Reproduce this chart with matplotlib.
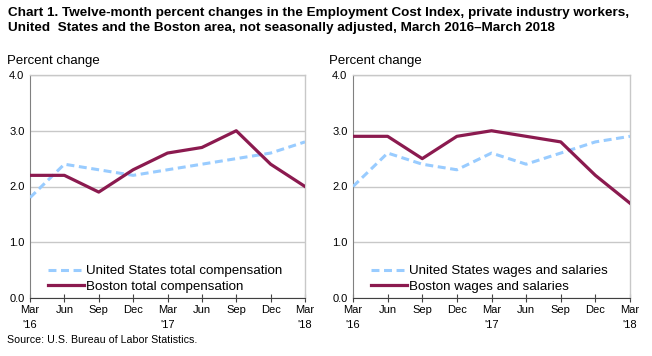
import matplotlib
matplotlib.use("Agg")
import matplotlib.pyplot as plt
from matplotlib import font_manager

months = ["Mar\n'16", "Jun", "Sep", "Dec", "Mar\n'17", "Jun", "Sep", "Dec", "Mar\n'18"]
us_total = [1.8, 2.4, 2.3, 2.2, 2.3, 2.4, 2.5, 2.6, 2.8]
boston_total = [2.2, 2.2, 1.9, 2.3, 2.6, 2.7, 3.0, 2.4, 2.0]
us_wages = [2.0, 2.6, 2.4, 2.3, 2.6, 2.4, 2.6, 2.8, 2.9]
boston_wages = [2.9, 2.9, 2.5, 2.9, 3.0, 2.9, 2.8, 2.2, 1.7]
yticks = [0.0, 1.0, 2.0, 3.0, 4.0]

names = {f.name for f in font_manager.fontManager.ttflist}
narrow = "Liberation Sans Narrow" if "Liberation Sans Narrow" in names else "Liberation Sans"
regular = "Liberation Sans"

US_COLOR = "#99CCFF"
BOS_COLOR = "#8B1A4F"
GRID = "#C8C8C8"

fig = plt.figure(figsize=(6.52, 3.56), dpi=100)
fig.text(8/652, 1 - 7/356, "Chart 1. Twelve-month percent changes in the Employment Cost Index, private industry workers,\n"
         "United  States and the Boston area, not seasonally adjusted, March 2016\u2013March 2018",
         fontsize=9.7, fontweight="bold", family=narrow, va="top", ha="left", linespacing=1.28)
fig.text(7/652, 1 - 340/356, "Source: U.S. Bureau of Labor Statistics.", fontsize=7.7, family=narrow,
         va="center", ha="left")

panels = [
    ([30/652, 1 - 298/356, 275/652, 223/356], us_total, boston_total,
     "United States total compensation", "Boston total compensation"),
    ([353/652, 1 - 298/356, 277/652, 223/356], us_wages, boston_wages,
     "United States wages and salaries", "Boston wages and salaries"),
]

x = list(range(len(months)))
for rect, us, bos, lab_us, lab_bos in panels:
    ax = fig.add_axes(rect)
    ax.plot(x, us, color=US_COLOR, lw=2.2, ls=(0, (2.6, 1.5)), label=lab_us, zorder=3)
    ax.plot(x, bos, color=BOS_COLOR, lw=2.3, label=lab_bos, zorder=4)
    ax.set_xlim(0, len(months) - 1)
    ax.set_ylim(0, 4)
    ax.set_yticks(yticks)
    ax.set_yticklabels([f"{v:.1f}" for v in yticks], family=narrow, fontsize=8)
    ax.set_xticks(x)
    ax.set_xticklabels(months, family=narrow, fontsize=8, linespacing=1.6)
    ax.yaxis.grid(True, color=GRID, lw=1)
    ax.set_axisbelow(True)
    for side in ["top", "right"]:
        ax.spines[side].set_color(GRID)
        ax.spines[side].set_linewidth(1)
    ax.spines["left"].set_color("#808080")
    ax.spines["bottom"].set_color("#404040")
    ax.tick_params(axis="y", length=0, pad=4)
    ax.tick_params(axis="x", direction="inout", length=6, color="#404040", pad=2)
    ax.text(-0.085, 1.035, "Percent change", transform=ax.transAxes, fontsize=9.5,
            family=regular, ha="left", va="bottom")
    ax.legend(loc="center left", bbox_to_anchor=(0.045, 0.085), frameon=False,
              prop={"family": regular, "size": 9.6}, handlelength=2.7,
              handletextpad=0.2, labelspacing=0.25, borderaxespad=0.0)

fig.savefig("out.png", dpi=100)
